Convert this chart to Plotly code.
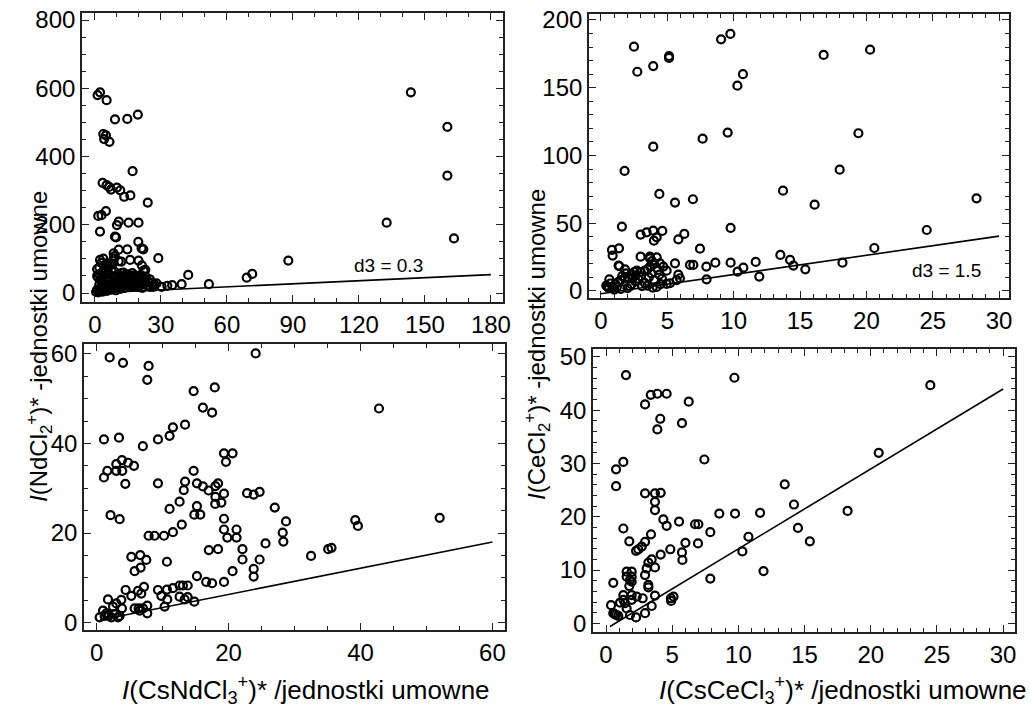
import plotly.graph_objects as go

# ---------------- data ----------------
# Panel A: I(CsNdCl3+)* vs I(NdCl2+)*, full range
nd_full_points = [
    (1.2, 580), (2.3, 588), (5.3, 565), (9.1, 509), (14.7, 510), (19.5, 523),
    (3.8, 466), (5.0, 462), (4.2, 451), (6.6, 443), (17.1, 357), (3.5, 323),
    (5.3, 316), (6.4, 311), (7.3, 303), (10.0, 309), (11.5, 301), (13.3, 282),
    (16.1, 286), (24.0, 265), (1.5, 226), (3.0, 228), (5.0, 240), (2.3, 180),
    (10.0, 199), (10.8, 209), (15.3, 206), (19.8, 206), (9.1, 165), (9.6, 163),
    (19.7, 150), (21.2, 131), (22.0, 128), (10.8, 127), (14.7, 128), (8.5, 116),
    (9.0, 108), (8.5, 101), (28.8, 102), (2.3, 97), (3.8, 101), (5.3, 87),
    (6.8, 82), (10.8, 93), (12.0, 92), (16.0, 97), (19.8, 95), (21.3, 81),
    (22.1, 66), (22.9, 68), (42.4, 53), (39.4, 26), (51.8, 26), (30.3, 18),
    (32.9, 21), (35.1, 23), (28, 28), (26.5, 18), (24.2, 20.5), (69, 45),
    (71.5, 56), (87.9, 95), (132.6, 206), (143.6, 588), (160.2, 487),
    (160.2, 344), (163.2, 160),
    (1.0, 70), (2.0, 75), (3.2, 60), (4.5, 72), (6.0, 78), (7.5, 66), (8.0, 85),
    (3.0, 88), (1.5, 45), (2.5, 40), (4, 50), (5.5, 45), (7, 52), (9, 48),
    (10.5, 55), (12, 58), (13.5, 50), (15, 55), (16.5, 48), (18, 52), (20, 45),
    (22, 42), (24, 35), (26, 30), (1, 10), (2, 5), (3, 15), (4, 8), (5, 20),
    (6, 12), (7, 25), (8, 18), (9, 30), (10, 22), (11, 35), (12, 28), (13, 40),
    (14, 32), (15, 38), (16, 25), (17, 42), (18, 30), (19, 35), (20, 28),
    (21, 38), (22, 25), (23, 30), (24, 22), (25, 18), (0.5, 3), (1.5, 2),
    (2.5, 8), (3.5, 4), (4.5, 12), (5.5, 6), (6.5, 16), (7.5, 10), (8.5, 14),
    (9.5, 8), (10.5, 18), (11.5, 12), (12.5, 20), (13.5, 15), (14.5, 22),
    (15.5, 18), (16.5, 30), (17.5, 20), (18.5, 25), (19.5, 18), (20.5, 22),
    (21.5, 15), (2, 25), (3, 32), (4, 28), (6, 35), (8, 40), (10, 42), (12, 45),
    (14, 46), (16, 40), (18, 44), (20, 38), (1, 50), (2, 55), (3, 42), (5, 62),
    (6, 58), (9, 62), (11, 48), (13, 60), (15, 45), (17, 58), (19, 50), (21, 52),
    (23, 48), (25, 40), (27, 25),
]
nd_full_line_x = [0, 180]
nd_full_line_y = [0, 54]

# Panel B: I(CsCeCl3+)* vs I(CeCl2+)*, full range
ce_full_points = [
    (2.49, 180.3), (2.74, 161.8), (3.94, 166), (5.13, 173.4), (5.13, 172),
    (9.05, 185.7), (9.75, 189.7), (10.28, 151.5), (10.7, 160), (16.78, 174.2),
    (20.28, 178.1), (9.55, 116.9), (7.66, 112.4), (3.94, 106.5), (1.78, 88.6),
    (4.40, 71.6), (6.93, 67.7), (5.58, 65.2), (13.72, 74), (16.1, 63.7),
    (17.99, 89.5), (19.4, 116.4), (28.3, 68.4), (24.55, 45), (9.77, 46.5),
    (20.6, 31.7), (1.58, 47.5), (2.99, 41.6), (3.44, 43.3), (3.94, 44.5),
    (4.62, 44.3), (4.2, 39.6), (3.99, 37.1), (5.83, 38.1), (6.28, 42.1),
    (7.46, 31.2), (0.83, 30.3), (0.88, 26.1), (1.36, 31.5), (2.99, 25.3),
    (3.69, 25.3), (4.2, 24.8), (1.33, 18.7), (1.81, 16), (4.45, 20.4), (4.7, 18),
    (4.95, 15), (5.58, 20.4), (6.71, 19.2), (6.96, 19.2), (7.94, 18), (8.62, 20.9),
    (9.77, 20.9), (10.73, 17.2), (11.66, 21.4), (13.52, 26.6), (14.25, 22.9),
    (14.5, 18.7), (15.4, 16), (18.2, 20.9), (10.3, 14.3), (11.93, 10.6),
    (7.96, 8.6), (4.95, 5.2), (5.2, 5.7), (5.95, 9.4), (5.7, 8), (5.83, 12),
    (0.4, 4), (0.5, 3), (0.6, 2), (0.63, 8.6), (0.9, 3.2), (1.1, 5), (1.3, 6.5),
    (1.5, 8), (1.8, 9.6), (1.38, 18.4), (2.3, 12), (2.5, 14), (2.7, 15), (3.0, 14),
    (3.3, 15), (2.3, 5), (2.6, 7), (2.8, 9), (3.0, 11), (3.3, 6), (3.5, 4),
    (3.6, 10), (3.8, 13), (4.0, 8), (4.2, 3), (2.0, 2), (2.2, 3.5), (1.5, 1.5),
    (1.0, 1.0), (3.7, 24), (3.85, 22), (4.0, 20), (3.7, 18), (3.5, 16), (4.4, 12),
    (4.6, 9), (4.5, 5), (2.1, 10), (1.9, 13), (2.4, 9.5), (2.6, 11.5), (3.1, 3.5),
    (3.9, 2.5), (0.7, 5.5), (1.2, 3), (1.6, 11), (4.3, 15.5),
]
ce_full_line_x = [0, 30]
ce_full_line_y = [-2, 40.5]

# Panel C: I(CsNdCl3+)* vs I(NdCl2+)*, low range
nd_zoom_points = [
    (1.97, 59.2), (3.99, 58.0), (7.87, 57.3), (7.67, 54.2), (24.1, 60.1),
    (14.7, 51.7), (17.9, 52.5), (16.1, 48.0), (17.5, 46.9), (13.4, 44.2),
    (11.56, 43.6), (11.05, 41.7), (9.29, 40.9), (7.0, 39.4), (3.38, 41.3),
    (1.1, 40.9), (2.97, 35.4), (3.83, 36.3), (4.74, 35.7), (5.65, 35.0),
    (2.97, 33.9), (3.88, 33.9), (1.61, 33.9), (1.1, 32.4), (4.34, 31.0),
    (9.29, 31.1), (19.3, 37.8), (20.6, 37.8), (19.6, 35.9), (14.7, 33.9),
    (13.4, 31.5), (13.2, 29.6), (15.2, 31.1), (16.1, 30.4), (16.96, 29.5),
    (18.0, 30.5), (18.4, 31.1), (18.0, 28.1), (19.3, 28.8), (18.9, 26.8),
    (17.97, 26.5), (12.57, 27.0), (15.2, 26.0), (14.8, 24.1), (15.7, 24.1),
    (11.05, 25.4), (22.8, 28.9), (23.8, 28.6), (24.7, 29.2), (27.0, 25.7),
    (28.7, 22.6), (28.2, 20.1), (28.3, 18.1), (12.9, 21.9), (11.56, 20.2),
    (7.87, 19.4), (8.78, 19.4), (10.2, 19.4), (2.1, 24.0), (3.48, 23.1),
    (19.3, 23.2), (19.3, 20.8), (19.8, 19.0), (21.2, 20.8), (21.2, 19.0),
    (22.1, 16.4), (22.1, 14.1), (25.6, 17.7), (18.4, 16.4), (17.0, 16.2),
    (24.7, 14.1), (23.8, 12.0), (23.8, 10.3), (32.5, 14.9), (5.25, 14.7),
    (6.6, 15.1), (7.52, 14.0), (6.66, 12.3), (5.75, 11.5), (10.65, 13.6),
    (15.2, 10.4), (16.6, 9.1), (17.5, 8.8), (19.3, 9.1), (20.6, 11.5),
    (4.39, 7.3), (5.25, 6.0), (6.26, 7.1), (6.76, 6.5), (7.17, 8.0), (9.29, 7.3),
    (10.65, 7.4), (11.56, 7.7), (12.57, 8.3), (13.07, 8.3), (13.8, 8.3),
    (9.8, 6.0), (10.7, 5.2), (12.57, 5.8), (13.8, 5.7), (14.8, 4.7), (13.33, 5.2),
    (1.71, 5.2), (2.97, 4.3), (3.73, 5.1), (2.47, 3.6), (3.83, 3.2), (5.75, 3.2),
    (6.36, 3.2), (7.02, 3.2), (7.67, 3.8), (7.67, 2.1), (6.51, 2.7), (10.3, 3.6),
    (0.96, 2.7), (1.46, 2.1), (1.21, 1.5), (0.45, 1.2), (1.81, 1.5), (2.22, 1.2),
    (3.23, 1.2), (3.48, 1.5), (2.72, 1.9), (42.8, 47.8), (52.0, 23.4),
    (39.2, 22.9), (39.6, 21.6), (35.1, 16.4), (35.6, 16.7),
]
nd_zoom_line_x = [0.5, 60]
nd_zoom_line_y = [0.6, 18.0]

# Panel D: I(CsCeCl3+)* vs I(CeCl2+)*, low range
ce_zoom_points = [
    (1.51, 46.6), (9.7, 46.1), (3.38, 42.9), (3.88, 43.1), (4.58, 43.1),
    (2.95, 41.1), (6.25, 41.6), (4.1, 38.4), (3.88, 36.4), (5.74, 37.6),
    (7.43, 30.75), (1.31, 30.3), (0.76, 28.9), (0.76, 25.75), (13.5, 26.1),
    (2.95, 24.4), (3.7, 24.4), (4.13, 24.5), (3.7, 22.8), (3.7, 21.25),
    (5.52, 19.1), (4.33, 19.5), (4.58, 18.3), (6.73, 18.6), (6.98, 18.6),
    (8.56, 20.6), (9.75, 20.6), (11.64, 20.75), (1.31, 17.8), (3.4, 16.7),
    (1.76, 15.4), (2.95, 15.3), (2.7, 14.4), (2.44, 13.9), (2.27, 13.6),
    (7.88, 17.1), (6.0, 15.1), (6.95, 15.0), (4.13, 12.9), (4.86, 13.9),
    (3.2, 11.4), (3.45, 12.0), (3.07, 10.3), (3.7, 10.5), (2.95, 9.06),
    (5.74, 13.3), (5.77, 11.9), (10.76, 16.25), (10.3, 13.5), (11.9, 9.8),
    (7.88, 8.4), (1.56, 9.7), (1.94, 9.7), (1.56, 8.75), (1.94, 8.75),
    (1.81, 8.1), (1.76, 7.0), (1.94, 7.8), (0.55, 7.6), (3.2, 7.2), (3.2, 6.75),
    (1.31, 5.3), (1.94, 5.3), (1.31, 4.4), (1.94, 4.4), (1.44, 3.8), (1.06, 3.9),
    (2.32, 5.0), (1.56, 2.8), (2.77, 4.7), (3.7, 5.2), (3.45, 3.25), (4.9, 4.7),
    (5.1, 5.0), (4.92, 4.2), (0.38, 3.4), (0.55, 1.9), (0.76, 1.6), (0.93, 1.4),
    (1.81, 1.56), (2.27, 1.1), (2.95, 1.9), (0.65, 1.7), (24.5, 44.7),
    (20.6, 32.0), (14.2, 22.3), (14.5, 17.9), (15.4, 15.4), (18.25, 21.1),
]
ce_zoom_line_x = [0.3, 30]
ce_zoom_line_y = [-0.6, 44.0]

d3_labels = ["d3 = 0.3", "d3 = 1.5"]
y_titles = ["<i>I</i>(NdCl<sub>2</sub><sup>+</sup>)* -jednostki umowne",
            "<i>I</i>(CeCl<sub>2</sub><sup>+</sup>)* -jednostki umowne"]
x_titles = ["<i>I</i>(CsNdCl<sub>3</sub><sup>+</sup>)* /jednostki umowne",
            "<i>I</i>(CsCeCl<sub>3</sub><sup>+</sup>)* /jednostki umowne"]

# ---------------- figure ----------------
FONT = "Liberation Sans, Arial, sans-serif"
fig = go.Figure()

panels = [
    (nd_full_points, nd_full_line_x, nd_full_line_y, "x", "y"),
    (ce_full_points, ce_full_line_x, ce_full_line_y, "x2", "y2"),
    (nd_zoom_points, nd_zoom_line_x, nd_zoom_line_y, "x3", "y3"),
    (ce_zoom_points, ce_zoom_line_x, ce_zoom_line_y, "x4", "y4"),
]
for pts, lx, ly, xa, ya in panels:
    fig.add_trace(go.Scatter(
        x=[p[0] for p in pts], y=[p[1] for p in pts], mode="markers",
        xaxis=xa, yaxis=ya, showlegend=False, hoverinfo="skip",
        marker=dict(symbol="circle-open", size=8, color="black",
                    line=dict(width=2.2, color="black")),
        cliponaxis=False))
    fig.add_trace(go.Scatter(
        x=lx, y=ly, mode="lines", xaxis=xa, yaxis=ya, showlegend=False,
        hoverinfo="skip", line=dict(color="black", width=1.6)))

axis_common = dict(showline=True, linecolor="#222", linewidth=1.6,
                   mirror="allticks", ticks="inside", ticklen=7, tickwidth=1.2,
                   tickcolor="#222", showgrid=False, zeroline=False,
                   automargin=False,
                   tickfont=dict(family=FONT, size=24, color="black"))

def ax(domain, rng, dtick, minor, anchor):
    d = dict(axis_common)
    d.update(domain=domain, range=rng, dtick=dtick, tick0=0, anchor=anchor,
             minor=dict(ticks="inside", ticklen=4, tickwidth=1,
                        tickcolor="#222", dtick=minor, tick0=0))
    return d

fig.update_layout(
    width=1031, height=715,
    margin=dict(l=0, r=0, t=0, b=0),
    paper_bgcolor="white", plot_bgcolor="white",
    xaxis=ax([0.0795, 0.4879], [-5.9, 185.5], 30, 10, "y"),
    yaxis=ax([0.5776, 0.9818], [-26.4, 820.5], 200, 50, "x"),
    xaxis2=ax([0.5713, 0.9787], [-0.9, 30.75], 5, 1, "y2"),
    yaxis2=ax([0.5832, 0.9804], [-5.2, 204.4], 50, 10, "x2"),
    xaxis3=ax([0.0815, 0.4898], [-1.92, 61.9], 20, 5, "y3"),
    yaxis3=ax([0.1189, 0.5189], [-1.63, 62.2], 20, 5, "x3"),
    xaxis4=ax([0.5752, 0.9845], [-0.98, 30.9], 5, 1, "y4"),
    yaxis4=ax([0.1161, 0.5119], [-1.63, 51.5], 10, 2, "x4"),
)

fig.add_annotation(x=133.6, y=82, xref="x", yref="y", text=d3_labels[0],
                   showarrow=False, font=dict(family=FONT, size=19, color="black"))
fig.add_annotation(x=26.05, y=15, xref="x2", yref="y2", text=d3_labels[1],
                   showarrow=False, font=dict(family=FONT, size=19, color="black"))

fig.add_annotation(x=39 / 1031, y=1 - 347 / 715, xref="paper", yref="paper",
                   text=y_titles[0], textangle=-90, showarrow=False,
                   xanchor="center", yanchor="middle",
                   font=dict(family=FONT, size=24, color="black"))
fig.add_annotation(x=537 / 1031, y=1 - 345 / 715, xref="paper", yref="paper",
                   text=y_titles[1], textangle=-90, showarrow=False,
                   xanchor="center", yanchor="middle",
                   font=dict(family=FONT, size=24, color="black"))
fig.add_annotation(x=306 / 1031, y=1 - 690 / 715, xref="paper", yref="paper",
                   text=x_titles[0], showarrow=False,
                   xanchor="center", yanchor="middle",
                   font=dict(family=FONT, size=26, color="black"))
fig.add_annotation(x=843 / 1031, y=1 - 690 / 715, xref="paper", yref="paper",
                   text=x_titles[1], showarrow=False,
                   xanchor="center", yanchor="middle",
                   font=dict(family=FONT, size=26, color="black"))

fig.write_html(
    "out.html",
    config={"displayModeBar": False},
    post_script="document.body.style.margin='0';document.body.style.overflow='hidden';",
)
